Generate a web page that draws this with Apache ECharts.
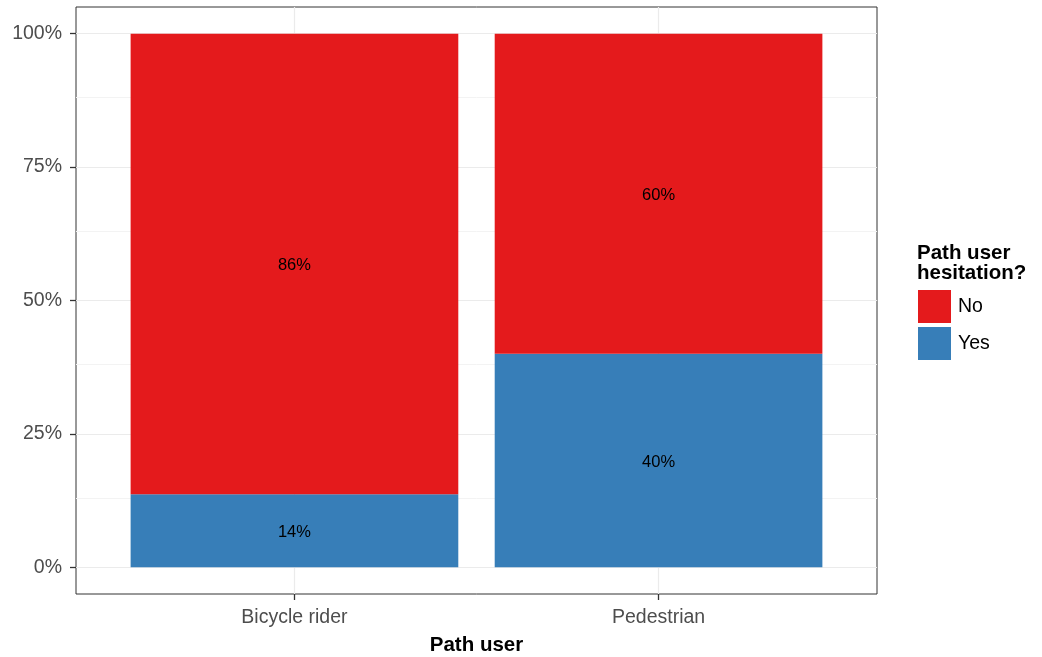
<!DOCTYPE html>
<html><head><meta charset="utf-8">
<script src="https://cdn.jsdelivr.net/npm/echarts@6/dist/echarts.min.js"></script>
<style>html,body{margin:0;padding:0;background:#fff}#c{width:1042px;height:657px}</style>
</head><body><div id="c"></div>
<script>
const categories = ['Bicycle rider', 'Pedestrian'];
const yesValues = [0.137, 0.40];
const noValues = [0.863, 0.60];
const yTicks = [0, 0.25, 0.5, 0.75, 1];
const yMinor = [0.125, 0.375, 0.625, 0.875];
const xTicks = [1, 2];
const FONT = 'Liberation Sans';
const BAR_W = 0.9;

const chart = echarts.init(document.getElementById('c'));
const pct = v => Math.round(v * 100) + '%';
const gridLines = [].concat(
  yTicks.map(v => ({ yAxis: v, lineStyle: { color: '#EBEBEB', width: 1.2, type: 'solid' } })),
  yMinor.map(v => ({ yAxis: v, lineStyle: { color: '#F3F3F3', width: 1, type: 'solid' } })),
  xTicks.map(v => ({ xAxis: v, lineStyle: { color: '#EBEBEB', width: 1.2, type: 'solid' } }))
);
// stacked segments [x, bottom, top]
const yesData = xTicks.map((x, i) => [x, 0, yesValues[i]]);
const noData = xTicks.map((x, i) => [x, yesValues[i], yesValues[i] + noValues[i]]);

function makeRender(color) {
  return function (params, api) {
    const x = api.value(0), y0 = api.value(1), y1 = api.value(2);
    const p0 = api.coord([x - BAR_W / 2, y1]);
    const p1 = api.coord([x + BAR_W / 2, y0]);
    return {
      type: 'rect',
      shape: { x: p0[0], y: p0[1], width: p1[0] - p0[0], height: p1[1] - p0[1] },
      style: { fill: color },
      textContent: { style: { text: pct(y1 - y0), fill: '#000', fontSize: 16.5, fontFamily: FONT } },
      textConfig: { position: 'inside', offset: [0, 2] }
    };
  };
}

chart.setOption({
  animation: false,
  textStyle: { fontFamily: FONT },
  title: { text: 'Path user\nhesitation?', left: 917, top: 243, padding: 0,
    textStyle: { fontSize: 20.5, fontWeight: 'bold', color: '#000', lineHeight: 20, fontFamily: FONT } },
  legend: { orient: 'vertical', left: 918, top: 290, padding: 0, itemWidth: 33, itemHeight: 33, itemGap: 4,
    icon: 'rect', data: ['No', 'Yes'],
    textStyle: { fontSize: 19.5, color: '#000', fontFamily: FONT, padding: [0, 0, 0, 2] } },
  grid: { left: 76, top: 7, width: 801, height: 587, show: true, borderColor: '#333333', borderWidth: 1,
    backgroundColor: '#fff', containLabel: false, outerBoundsMode: 'none' },
  xAxis: { type: 'value', min: 0.4, max: 2.6, position: 'bottom',
    name: 'Path user', nameLocation: 'middle', nameGap: 41,
    nameTextStyle: { fontSize: 20.5, fontWeight: 'bold', color: '#000', fontFamily: FONT },
    axisLine: { show: false, onZero: false }, splitLine: { show: false },
    axisTick: { show: true, inside: false, length: 6, customValues: xTicks, lineStyle: { color: '#333333', width: 1.3 } },
    axisLabel: { customValues: xTicks, margin: 14, fontSize: 19.5, color: '#4D4D4D', fontFamily: FONT,
      formatter: v => categories[Math.round(v) - 1] } },
  yAxis: { type: 'value', min: -0.05, max: 1.05, position: 'left',
    axisLine: { show: false, onZero: false }, splitLine: { show: false },
    axisTick: { show: true, inside: false, length: 6, customValues: yTicks, lineStyle: { color: '#333333', width: 1.3 } },
    axisLabel: { customValues: yTicks, margin: 14, fontSize: 19.5, color: '#4D4D4D', fontFamily: FONT,
      formatter: v => pct(v) } },
  series: [
    { type: 'line', data: [], silent: true, z: 0,
      markLine: { silent: true, symbol: 'none', z: 0, label: { show: false }, data: gridLines } },
    { name: 'Yes', type: 'custom', z: 2, itemStyle: { color: '#377EB8' },
      encode: { x: 0, y: [1, 2] }, renderItem: makeRender('#377EB8'), data: yesData },
    { name: 'No', type: 'custom', z: 2, itemStyle: { color: '#E41A1C' },
      encode: { x: 0, y: [1, 2] }, renderItem: makeRender('#E41A1C'), data: noData }
  ]
});
</script></body></html>
